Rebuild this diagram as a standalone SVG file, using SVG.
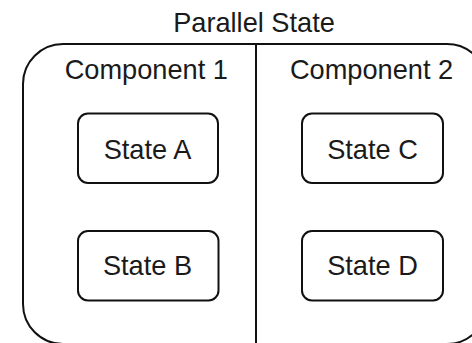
<svg xmlns="http://www.w3.org/2000/svg" width="472" height="343" viewBox="0 0 472 343">
  <style>
    .frame { fill: #ffffff; stroke: #111111; stroke-width: 2; }
    .state { fill: #ffffff; stroke: #111111; stroke-width: 2; }
    .divider { stroke: #111111; stroke-width: 2; fill: none; }
    text { font-family: "Liberation Sans", Arial, sans-serif; font-size: 27.2px; fill: #1a1a1a; text-anchor: middle; }
  </style>
  <rect width="472" height="343" fill="#ffffff"/>

  <!-- parallel state container -->
  <g id="parallel-state">
    <text x="254" y="31.5">Parallel State</text>
    <rect class="frame" x="23" y="44" width="464" height="300" rx="40" ry="40"/>
  </g>

  <g id="connectors">
    <line class="divider" x1="256" y1="44" x2="256" y2="344"/>
  </g>

  <g id="component-1">
    <text x="146.3" y="78.5">Component 1</text>
  </g>
  <g id="component-2">
    <text x="371.5" y="78.5">Component 2</text>
  </g>

  <g id="state-a">
    <rect class="state" x="78" y="113.5" width="140" height="69.5" rx="10" ry="10"/>
    <text x="147.5" y="158.5">State A</text>
  </g>
  <g id="state-b">
    <rect class="state" x="78" y="231" width="140.5" height="69.5" rx="10" ry="10"/>
    <text x="147.5" y="275.3">State B</text>
  </g>
  <g id="state-c">
    <rect class="state" x="302" y="113.5" width="141" height="69.5" rx="10" ry="10"/>
    <text x="372.5" y="158.5">State C</text>
  </g>
  <g id="state-d">
    <rect class="state" x="302" y="231" width="141" height="69.5" rx="10" ry="10"/>
    <text x="372.5" y="275.3">State D</text>
  </g>
</svg>
